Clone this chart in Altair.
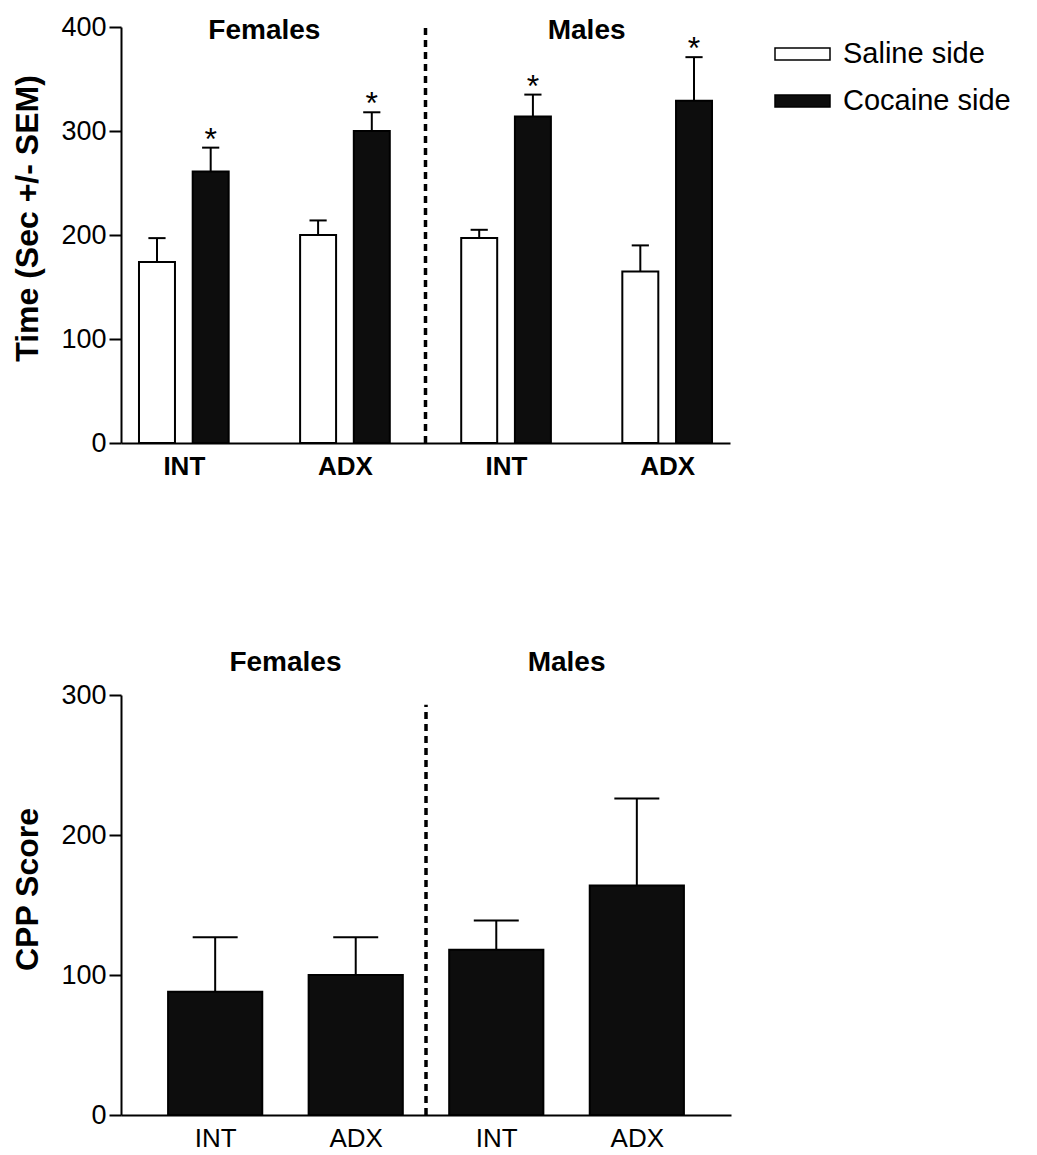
import altair as alt
import pandas as pd

# ---------------- data ----------------
groups = ["Females", "Males"]
treatments = ["INT", "ADX", "INT", "ADX"]          # F-INT, F-ADX, M-INT, M-ADX
sides = ["Saline side", "Cocaine side"]

saline_mean = [174, 200, 197, 165]
saline_sem = [23, 14, 8, 25]
cocaine_mean = [261, 300, 314, 329]
cocaine_sem = [23, 18, 21, 42]
cocaine_star = ["*", "*", "*", "*"]

cpp_mean = [88, 100, 118, 164]
cpp_sem = [39, 27, 21, 62]

FONT = "Liberation Sans"
BAR_HALF = 0.335
CAP_HALF = 0.16

# ---------------- top panel table ----------------
rows = []
for i, t in enumerate(treatments):
    for s, side in enumerate(sides):
        mean = saline_mean[i] if s == 0 else cocaine_mean[i]
        sem = saline_sem[i] if s == 0 else cocaine_sem[i]
        pos = 3 * i + s
        rows.append(dict(pos=pos, x0=pos - BAR_HALF, x1=pos + BAR_HALF,
                         c0=pos - CAP_HALF, c1=pos + CAP_HALF,
                         mean=mean, top=mean + sem, side=side,
                         star=(cocaine_star[i] if s == 1 else "")))
top_df = pd.DataFrame(rows)
top_ticks = [3 * i + 0.5 for i in range(len(treatments))]
top_divider = (top_ticks[1] + top_ticks[2]) / 2
top_groups = pd.DataFrame(dict(
    name=groups,
    x=[(top_ticks[0] + top_ticks[1]) / 2, (top_ticks[2] + top_ticks[3]) / 2],
    y=[396, 396]))

# ---------------- bottom panel table ----------------
bot_df = pd.DataFrame(dict(pos=list(range(4)), mean=cpp_mean,
                           top=[m + s for m, s in zip(cpp_mean, cpp_sem)]))
bot_df["x0"] = bot_df["pos"] - BAR_HALF
bot_df["x1"] = bot_df["pos"] + BAR_HALF
bot_df["c0"] = bot_df["pos"] - CAP_HALF
bot_df["c1"] = bot_df["pos"] + CAP_HALF
bot_ticks = list(range(4))
bot_divider = 1.5
bot_groups = pd.DataFrame(dict(name=groups, x=[0.5, 2.5], y=[323, 323]))


def label_expr(positions, labels):
    parts = [f"datum.value == {p} ? '{l}'" for p, l in zip(positions, labels)]
    return " : ".join(parts) + " : ''"


def yaxis(title, values, title_y):
    return alt.Axis(title=title, values=values, grid=False,
                    titleFontSize=32, titleFontWeight="bold", titleFont=FONT,
                    titleColor="black", titlePadding=16, titleY=title_y,
                    labelFontSize=27, labelFont=FONT, labelColor="black",
                    labelPadding=3, tickSize=12, tickWidth=2, tickColor="black",
                    domainWidth=2, domainColor="black")


def xaxis(positions, bold):
    return alt.Axis(title=None, values=positions, grid=False, ticks=False,
                    labelExpr=label_expr(positions, treatments),
                    labelFontSize=26, labelFont=FONT, labelColor="black",
                    labelFontWeight="bold" if bold else "normal",
                    labelPadding=10, labelOverlap=False,
                    domainWidth=2, domainColor="black")


DASH = [7, 5]
NOFRAME = alt.ViewBackground(stroke="transparent", strokeWidth=0)

# ---------------- top chart ----------------
xs_top = alt.Scale(domain=[-0.67, 10.67], nice=False, zero=False)
ys_top = alt.Scale(domain=[0, 400], nice=False)

top_base = alt.Chart(top_df)
bars_top = top_base.mark_bar(stroke="black", strokeWidth=2).encode(
    x=alt.X("x0:Q", scale=xs_top, axis=xaxis(top_ticks, True)),
    x2="x1:Q",
    y=alt.Y("mean:Q", scale=ys_top, axis=yaxis("Time (Sec +/- SEM)", [0, 100, 200, 300, 400], 191)),
    y2=alt.datum(0),
    fill=alt.Fill("side:N", scale=alt.Scale(domain=sides, range=["white", "#0d0d0d"]),
                  legend=alt.Legend(title=None, orient="none", legendX=653, legendY=7,
                                    symbolType="M-1,-0.22H1V0.22H-1Z", symbolSize=3025,
                                    symbolStrokeColor="black", symbolStrokeWidth=1.5,
                                    labelFontSize=29, labelFont=FONT, labelColor="black",
                                    labelLimit=400, labelOffset=12, clipHeight=40,
                                    rowPadding=7)),
)
err_top = top_base.mark_rule(color="black", strokeWidth=2).encode(
    x=alt.X("pos:Q", scale=xs_top), y=alt.Y("mean:Q", scale=ys_top), y2="top:Q")
cap_top = top_base.mark_rule(color="black", strokeWidth=2).encode(
    x=alt.X("c0:Q", scale=xs_top), x2="c1:Q", y=alt.Y("top:Q", scale=ys_top))
star_top = top_base.mark_text(fontSize=32, font=FONT, baseline="alphabetic", dy=2, color="black").encode(
    x=alt.X("pos:Q", scale=xs_top), y=alt.Y("top:Q", scale=ys_top), text="star:N")
div_top = alt.Chart(pd.DataFrame(dict(x=[top_divider], y0=[0], y1=[401]))).mark_rule(
    color="black", strokeWidth=3.5, strokeDash=DASH).encode(
    x=alt.X("x:Q", scale=xs_top), y=alt.Y("y0:Q", scale=ys_top), y2="y1:Q")
grp_top = alt.Chart(top_groups).mark_text(fontSize=28, fontWeight="bold", font=FONT,
                                           baseline="middle", color="black").encode(
    x=alt.X("x:Q", scale=xs_top), y=alt.Y("y:Q", scale=ys_top), text="name:N")

top_chart = alt.layer(bars_top, err_top, cap_top, star_top, div_top, grp_top).properties(
    width=609, height=416, view=NOFRAME)

# ---------------- bottom chart ----------------
xs_bot = alt.Scale(domain=[-0.67, 3.67], nice=False, zero=False)
ys_bot = alt.Scale(domain=[0, 300], nice=False)

bot_base = alt.Chart(bot_df)
bars_bot = bot_base.mark_bar(fill="#0d0d0d", stroke="black", strokeWidth=2).encode(
    x=alt.X("x0:Q", scale=xs_bot, axis=xaxis(bot_ticks, False)),
    x2="x1:Q",
    y=alt.Y("mean:Q", scale=ys_bot, axis=yaxis("CPP Score", [0, 100, 200, 300], 194)),
    y2=alt.datum(0),
)
err_bot = bot_base.mark_rule(color="black", strokeWidth=2).encode(
    x=alt.X("pos:Q", scale=xs_bot), y=alt.Y("mean:Q", scale=ys_bot), y2="top:Q")
cap_bot = bot_base.mark_rule(color="black", strokeWidth=2).encode(
    x=alt.X("c0:Q", scale=xs_bot), x2="c1:Q", y=alt.Y("top:Q", scale=ys_bot))
div_bot = alt.Chart(pd.DataFrame(dict(x=[bot_divider], y0=[0], y1=[293]))).mark_rule(
    color="black", strokeWidth=3.5, strokeDash=DASH).encode(
    x=alt.X("x:Q", scale=xs_bot), y=alt.Y("y0:Q", scale=ys_bot), y2="y1:Q")
grp_bot = alt.Chart(bot_groups).mark_text(fontSize=28, fontWeight="bold", font=FONT,
                                           baseline="middle", color="black").encode(
    x=alt.X("x:Q", scale=xs_bot), y=alt.Y("y:Q", scale=ys_bot), text="name:N")

bot_chart = alt.layer(bars_bot, err_bot, cap_bot, div_bot, grp_bot).properties(
    width=610, height=420, view=NOFRAME)

chart = alt.vconcat(top_chart, bot_chart, spacing=252, bounds="flush").properties(
    padding={"left": 3, "top": 5, "right": 5, "bottom": 5}
).configure_view(stroke="transparent", strokeWidth=0).configure(font=FONT, background="white")

chart.save("out.html", embed_options={"renderer": "svg", "actions": False})
